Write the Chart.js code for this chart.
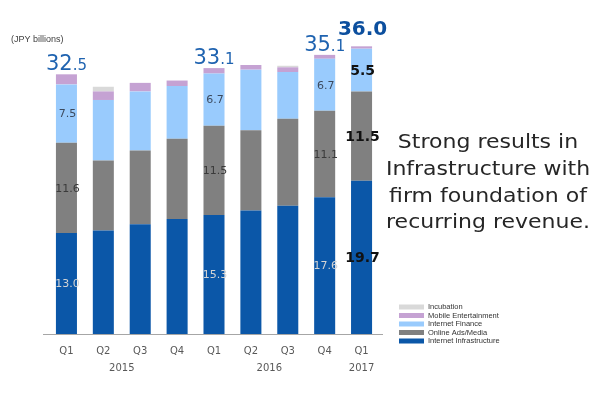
<!DOCTYPE html>
<html>
<head>
<meta charset="utf-8">
<script src="https://cdn.jsdelivr.net/npm/chart.js@4/dist/chart.umd.min.js"></script>
<style>
    body { margin: 0; background: #fff; }
    #wrap { width: 600px; height: 398px; position: relative; }
</style>
</head>
<body>
<div id="wrap"><canvas id="canvas" width="600" height="398"></canvas></div>
<script>
const quarters = ['Q1', 'Q2', 'Q3', 'Q4', 'Q1', 'Q2', 'Q3', 'Q4', 'Q1'];
const years = ['2015', '2016', '2017'];
const yearPositions = [1.5, 5.5, 8];

const infrastructure = [13.0, 13.3, 14.1, 14.8, 15.3, 15.9, 16.5, 17.6, 19.7];
const onlineAds = [11.6, 9.0, 9.5, 10.3, 11.5, 10.3, 11.2, 11.1, 11.5];
const internetFinance = [7.5, 7.8, 7.6, 6.8, 6.7, 7.8, 6.0, 6.7, 5.5];
const mobileEntertainment = [1.3, 1.1, 1.1, 0.7, 0.7, 0.6, 0.6, 0.5, 0.3];
const incubation = [0, 0.6, 0, 0, 0, 0, 0.2, 0, 0];

const totalLabels = ['32.5', '', '', '', '33.1', '', '', '35.1', '36.0'];
const labelledBars = [0, 4, 7, 8];
const highlightBar = 8;

const message = ['Strong results in', 'Infrastructure with', 'firm foundation of', 'recurring revenue.'];

function splitTotal(txt) {
    const dot = txt.indexOf('.');
    return [txt.slice(0, dot), txt.slice(dot)];
}

const segmentLabels = {
    id: 'segmentLabels',
    afterDatasetsDraw(chart) {
        const ctx = chart.ctx;
        const colors = ['#d4d4d4', '#3a3a3a', '#3c4a5e'];
        ctx.save();
        ctx.textAlign = 'center';
        ctx.textBaseline = 'middle';
        for (let d = 0; d < 3; d++) {
            const meta = chart.getDatasetMeta(d);
            const values = chart.data.datasets[d].data;
            labelledBars.forEach(i => {
                const bar = meta.data[i];
                const y = (bar.y + bar.base) / 2;
                if (i == highlightBar) {
                    ctx.font = 'bold 14px "DejaVu Sans"';
                    ctx.fillStyle = '#111';
                } else {
                    ctx.font = '11px "DejaVu Sans"';
                    ctx.fillStyle = colors[d];
                }
                ctx.fillText(values[i].toFixed(1), bar.x + 1, y + 1);
            });
        }
        ctx.restore();
    }
};

const totalsPlugin = {
    id: 'totals',
    afterDatasetsDraw(chart) {
        const ctx = chart.ctx;
        ctx.save();
        ctx.textBaseline = 'alphabetic';
        ctx.textAlign = 'left';
        totalLabels.forEach((txt, i) => {
            if (!txt) return;
            let top = Infinity;
            let x = 0;
            chart.data.datasets.forEach((ds, d) => {
                const bar = chart.getDatasetMeta(d).data[i];
                top = Math.min(top, bar.y);
                x = bar.x;
            });
            if (i == highlightBar) {
                ctx.font = 'bold 20px "DejaVu Sans"';
                ctx.fillStyle = '#0c4f9e';
                const w = ctx.measureText(txt).width;
                ctx.fillText(txt, x - w / 2 + 1, top - 11);
                return;
            }
            const [main, dec] = splitTotal(txt);
            ctx.font = '21px "DejaVu Sans"';
            const w1 = ctx.measureText(main).width;
            ctx.font = '15px "DejaVu Sans"';
            const w2 = ctx.measureText(dec).width;
            const start = x - (w1 + w2) / 2;
            ctx.fillStyle = '#1f63b0';
            ctx.font = '21px "DejaVu Sans"';
            ctx.fillText(main, start, top - 4);
            ctx.font = '15px "DejaVu Sans"';
            ctx.fillText(dec, start + w1, top - 4);
        });
        ctx.restore();
    }
};

const extrasPlugin = {
    id: 'extras',
    afterDraw(chart) {
        const ctx = chart.ctx;
        const xScale = chart.scales.x;
        const area = chart.chartArea;
        ctx.save();

        ctx.strokeStyle = '#a6a6a6';
        ctx.lineWidth = 1;
        ctx.beginPath();
        ctx.moveTo(area.left - 5, area.bottom + 0.5);
        ctx.lineTo(area.right + 3, area.bottom + 0.5);
        ctx.stroke();

        ctx.fillStyle = '#595959';
        ctx.font = '10px "DejaVu Sans"';
        ctx.textAlign = 'center';
        ctx.textBaseline = 'middle';
        years.forEach((yr, i) => {
            ctx.fillText(yr, xScale.getPixelForValue(yearPositions[i]), 368);
        });

        ctx.fillStyle = '#404040';
        ctx.font = '9px "Liberation Sans"';
        ctx.textAlign = 'left';
        ctx.fillText('(JPY billions)', 11, 40);

        ctx.fillStyle = '#262626';
        ctx.font = '20px "DejaVu Sans"';
        ctx.textAlign = 'center';
        ctx.textBaseline = 'alphabetic';
        message.forEach((line, i) => {
            ctx.save();
            ctx.translate(488, 148 + i * 26.8);
            ctx.scale(1.1, 1);
            ctx.fillText(line, 0, 0);
            ctx.restore();
        });

        const sets = chart.data.datasets.slice().reverse();
        ctx.font = '7.5px "Liberation Sans"';
        ctx.textAlign = 'left';
        ctx.textBaseline = 'middle';
        sets.forEach((ds, i) => {
            const y = 307 + i * 8.5;
            ctx.fillStyle = ds.backgroundColor;
            ctx.fillRect(399, y - 2.5, 25, 5);
            ctx.fillStyle = '#333';
            ctx.fillText(ds.label, 428, y);
        });

        ctx.restore();
    }
};

function makeDataset(label, data, color) {
    return {
        label: label,
        data: data,
        backgroundColor: color,
        borderWidth: 0,
        categoryPercentage: 1,
        barPercentage: 0.57
    };
}

const data = {
    labels: quarters,
    datasets: [
        makeDataset('Internet Infrastructure', infrastructure, '#0b57a8'),
        makeDataset('Online Ads/Media', onlineAds, '#808080'),
        makeDataset('Internet Finance', internetFinance, '#99cbfd'),
        makeDataset('Mobile Entertainment', mobileEntertainment, '#c5a2d3'),
        makeDataset('Incubation', incubation, '#d9d9d9')
    ]
};

const options = {
    responsive: false,
    animation: false,
    layout: {
        padding: { left: 48, right: 220, top: 23, bottom: 0 }
    },
    plugins: {
        legend: { display: false },
        tooltip: { enabled: false }
    },
    scales: {
        x: {
            stacked: true,
            grid: { display: false, drawTicks: false },
            border: { display: false },
            ticks: {
                color: '#595959',
                font: { family: 'DejaVu Sans', size: 10 },
                padding: 11,
                maxRotation: 0
            },
            afterFit: s => { s.height = 64; }
        },
        y: {
            stacked: true,
            display: false,
            min: 0,
            max: 40
        }
    }
};

const ctx = document.getElementById('canvas').getContext('2d');
window.chart = new Chart(ctx, {
    type: 'bar',
    data: data,
    options: options,
    plugins: [segmentLabels, totalsPlugin, extrasPlugin]
});
</script>
</body>
</html>
